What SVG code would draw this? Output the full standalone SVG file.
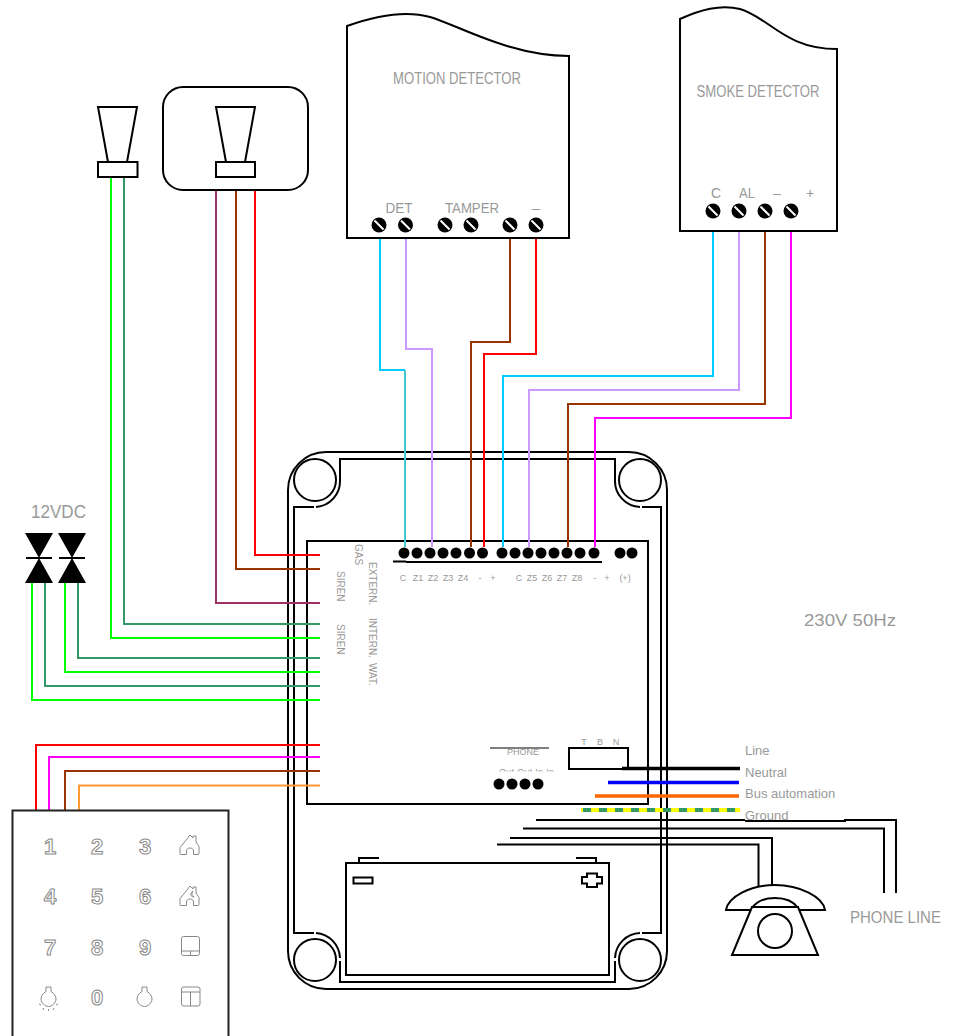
<svg xmlns="http://www.w3.org/2000/svg" width="958" height="1036" viewBox="0 0 958 1036">
<style>
text{font-family:"Liberation Sans",Arial,sans-serif;fill:#999}
.s{fill:none;stroke:#000;stroke-width:2}
.w{fill:#fff;stroke:#000;stroke-width:2}
.t{fill:none;stroke:#000;stroke-width:1.5}
.wire{fill:none;stroke-width:2}
.lb{font-size:9px}
.rt{font-size:10px}
.key{font-size:22px;font-weight:bold;fill:#fff;stroke:#888;stroke-width:1;text-anchor:middle}
.ic{fill:#fff;stroke:#888;stroke-width:1}
.ray{fill:none;stroke:#888;stroke-width:1}
.term{fill:#000}
.sl{stroke:#fff;stroke-width:2;fill:none}
</style>
<defs>
<g id="screw"><circle r="7.5" class="term"/><line x1="-4.5" y1="-4.5" x2="4.5" y2="4.5" class="sl"/></g>
<g id="valve"><path d="M-14 0H14L0 25 14 50H-14L0 25Z" fill="#000"/><line x1="-13" y1="25" x2="13" y2="25" stroke="#000" stroke-width="2"/></g>
<path id="house" d="M-9 9.5C-10 9.5-10 9-10 8V2.500L-3-6 0-10 3-7V-9H6V-3L9 1.500V8C9 9 9 9.500 8 9.500H3.500V6C3.500 4 2 3 0 3-2 3-3.500 4-3.500 6V9.500Z"/>
<clipPath id="clip-out"><rect x="490" y="760" width="70" height="11.500"/></clipPath>
</defs>

<g id="control-case">
<rect x="288" y="452" width="379" height="537" rx="38" class="s"/>
<path class="s" d="M340 480V459H615V480M340 480A26 26 0 0 1 316 507M314 507H294V933H314M316 933A26 26 0 0 1 340 958M340 961V982H615V961M615 958A26 26 0 0 1 640 933M642 933H661V507H642M640 507A26 26 0 0 1 615 480"/>
<circle cx="315" cy="480" r="21" class="s"/>
<circle cx="640" cy="480" r="21" class="s"/>
<circle cx="315" cy="960" r="21" class="s"/>
<circle cx="640" cy="960" r="21" class="s"/>
</g>

<g id="board">
<rect x="307" y="541" width="341" height="263" class="s"/>
<path class="s" stroke-width="1.500" d="M393 561.500H406M406 562H602"/>
<g class="term">
<circle cx="404" cy="553" r="5.500"/><circle cx="417" cy="553" r="5.500"/><circle cx="430" cy="553" r="5.500"/><circle cx="443" cy="553" r="5.500"/><circle cx="456" cy="553" r="5.500"/><circle cx="469.500" cy="553" r="5.500"/><circle cx="482.500" cy="553" r="5.500"/>
<circle cx="502" cy="553" r="5.500"/><circle cx="515" cy="553" r="5.500"/><circle cx="528" cy="553" r="5.500"/><circle cx="541" cy="553" r="5.500"/><circle cx="554" cy="553" r="5.500"/><circle cx="567" cy="553" r="5.500"/><circle cx="580" cy="553" r="5.500"/><circle cx="594" cy="553" r="5.500"/>
<circle cx="620" cy="553" r="5.500"/><circle cx="632" cy="553" r="5.500"/>
<circle cx="499" cy="784" r="5.500"/><circle cx="512" cy="784" r="5.500"/><circle cx="525" cy="784" r="5.500"/><circle cx="538" cy="784" r="5.500"/>
</g>
<g class="lb" text-anchor="middle">
<text x="403" y="581">C</text><text x="418" y="581">Z1</text><text x="433" y="581">Z2</text><text x="448" y="581">Z3</text><text x="463" y="581">Z4</text><text x="480" y="581">-</text><text x="493" y="581">+</text>
<text x="519" y="581">C</text><text x="532" y="581">Z5</text><text x="547" y="581">Z6</text><text x="562" y="581">Z7</text><text x="577" y="581">Z8</text><text x="595" y="581">-</text><text x="607" y="581">+</text><text x="625" y="581">(+)</text>
</g>
<g class="rt">
<text transform="translate(355 544) rotate(90)">GAS</text>
<text transform="translate(369 562) rotate(90)">EXTERN.</text>
<text transform="translate(369 618) rotate(90)">INTERN.</text>
<text transform="translate(369 663) rotate(90)">WAT.</text>
<text transform="translate(337 571) rotate(90)">SIREN</text>
<text transform="translate(337 624) rotate(90)">SIREN</text>
</g>
<line x1="490" y1="748" x2="549" y2="748" stroke="#000" stroke-width="1"/>
<text x="523" y="755" class="lb" text-anchor="middle">PHONE</text>
<text x="499" y="775" class="lb" clip-path="url(#clip-out)" textLength="55">Out Out In In</text>
<text x="584" y="745" class="lb" text-anchor="middle">T</text><text x="600" y="745" class="lb" text-anchor="middle">B</text><text x="616" y="745" class="lb" text-anchor="middle">N</text>
<path class="s" d="M622 769H569V748H628V769"/>
</g>

<g id="connectors">
<path class="wire" stroke="#00ccff" d="M380 232V370H405"/>
<path class="wire" stroke="#40c8d0" d="M405 370V547"/>
<path class="wire" stroke="#cc99ff" d="M406 232V349H432V547"/>
<path class="wire" stroke="#993300" d="M510 232V342H471V547"/>
<path class="wire" stroke="#ff0000" d="M536 232V354H484V547"/>
<path class="wire" stroke="#00ccff" d="M713 216V376H503V547"/>
<path class="wire" stroke="#cc99ff" d="M739 216V390H529V547"/>
<path class="wire" stroke="#993300" d="M765 231V404H568V547"/>
<path class="wire" stroke="#ff00ff" d="M791 231V418H595V547"/>
<path class="wire" stroke="#ff0000" d="M255 190V555H320"/>
<path class="wire" stroke="#993300" d="M236 190V569H320"/>
<path class="wire" stroke="#993366" d="M216 190V603H320"/>
<path class="wire" stroke="#339966" d="M124 177V624H320"/>
<path class="wire" stroke="#00ff00" d="M111 177V638H320"/>
<path class="wire" stroke="#339966" d="M78 583V658H320"/>
<path class="wire" stroke="#00ff00" d="M65 583V672H320"/>
<path class="wire" stroke="#339966" d="M45 583V686H320"/>
<path class="wire" stroke="#00ff00" d="M32 583V700H320"/>
<path class="wire" stroke="#ff0000" d="M320 745H36V810"/>
<path class="wire" stroke="#ff00ff" d="M320 757H49V810"/>
<path class="wire" stroke="#993300" d="M320 771H65V810"/>
<path class="wire" stroke="#ff9933" d="M320 785.500H79V810"/>
<line x1="622" y1="768.500" x2="740" y2="768.500" stroke="#000" stroke-width="3.500"/>
<line x1="608" y1="782.500" x2="739" y2="782.500" stroke="#0000ff" stroke-width="3.500"/>
<line x1="595" y1="796" x2="739" y2="796" stroke="#ff6600" stroke-width="3.500"/>
<line x1="581" y1="810" x2="740" y2="810" stroke="#ffff00" stroke-width="4"/>
<line x1="583" y1="810" x2="740" y2="810" stroke="#339966" stroke-width="4" stroke-dasharray="8 8"/>
<path class="s" d="M536 820H745M745 821H845V820H896V893"/>
<path class="s" d="M523 828.500H884V893"/>
<path class="s" d="M510 838H772V886"/>
<path class="s" d="M497 844.500H758.500V887"/>
</g>

<g id="battery">
<rect x="346" y="863" width="263" height="112" class="s"/>
<path class="s" d="M359 863V858H379M576 858H596V863"/>
<rect x="353.500" y="877.500" width="19" height="6" class="s"/>
<path class="s" d="M587 873.500H597V877H602V883.500H597V887H587V883.500H582V877H587Z"/>
</g>

<g id="motion-detector">
<path class="w" d="M347 238V26C375 16 405 10 430 17 460 26 510 56 569 56V238Z"/>
<text x="457" y="84" font-size="16" text-anchor="middle" textLength="128" lengthAdjust="spacingAndGlyphs">MOTION DETECTOR</text>
<text x="399" y="213" font-size="15" text-anchor="middle" textLength="27" lengthAdjust="spacingAndGlyphs">DET</text>
<text x="472" y="213" font-size="15" text-anchor="middle" textLength="54" lengthAdjust="spacingAndGlyphs">TAMPER</text>
<text x="536" y="213" font-size="15" text-anchor="middle">–</text>
<use href="#screw" x="379" y="225"/><use href="#screw" x="405.500" y="225"/><use href="#screw" x="445" y="225"/><use href="#screw" x="471" y="225"/><use href="#screw" x="510" y="225"/><use href="#screw" x="536" y="225"/>
</g>

<g id="smoke-detector">
<path class="w" d="M680 231V19C700 10 720 4 740 9 770 18 785 49 837 49V231Z"/>
<text x="758" y="97" font-size="16" text-anchor="middle" textLength="123" lengthAdjust="spacingAndGlyphs">SMOKE DETECTOR</text>
<text x="716" y="198" font-size="14" text-anchor="middle">C</text>
<text x="747" y="198" font-size="14" text-anchor="middle" textLength="16" lengthAdjust="spacingAndGlyphs">AL</text>
<text x="777" y="198" font-size="14" text-anchor="middle">–</text>
<text x="810" y="198" font-size="14" text-anchor="middle">+</text>
<use href="#screw" x="713" y="211"/><use href="#screw" x="739" y="211"/><use href="#screw" x="765" y="211"/><use href="#screw" x="791" y="211"/>
</g>

<g id="siren-external">
<rect x="163" y="87" width="145" height="103" rx="20" class="s"/>
<path class="s" d="M226 162L216 107H255L245 162"/>
<rect x="216" y="162" width="39" height="15" class="s"/>
</g>

<g id="siren-internal">
<path class="s" d="M108 162L98 107H137L127 162"/>
<rect x="98" y="162" width="39.500" height="15" class="s"/>
</g>

<g id="valves">
<text x="31" y="518" font-size="18" textLength="55" lengthAdjust="spacingAndGlyphs">12VDC</text>
<use href="#valve" x="39" y="533"/>
<use href="#valve" x="72" y="533"/>
</g>

<g id="power-labels" font-size="13">
<text x="745" y="755" font-size="13">Line</text>
<text x="745" y="777" font-size="13">Neutral</text>
<text x="745" y="798" font-size="13">Bus automation</text>
<text x="745" y="820" font-size="13">Ground</text>
<text x="804" y="626" font-size="17" textLength="92" lengthAdjust="spacingAndGlyphs">230V 50Hz</text>
</g>

<g id="telephone">
<path class="w" d="M726 910C728 897 750 885 775 885 800 885 823 897 825 910Z"/>
<path class="s" d="M752 908C756 902 764 898 775 898 786 898 794 902 798 908"/>
<path class="w" d="M752 907L732 955H818L798 907Z"/>
<circle cx="775" cy="931" r="17" class="s"/>
<text x="850" y="923" font-size="16" textLength="91" lengthAdjust="spacingAndGlyphs">PHONE LINE</text>
</g>

<g id="keypad">
<path fill="#fff" stroke="#222" stroke-width="2" d="M12.500 1040V810.500H228.500V1040"/>
<text x="50" y="854" class="key">1</text><text x="97" y="854" class="key">2</text><text x="145" y="854" class="key">3</text>
<text x="50" y="904" class="key">4</text><text x="97" y="904" class="key">5</text><text x="145" y="904" class="key">6</text>
<text x="50" y="955" class="key">7</text><text x="97" y="955" class="key">8</text><text x="145" y="955" class="key">9</text>
<text x="97" y="1005" class="key">0</text>
<use href="#house" x="190" y="845" class="ic"/>
<use href="#house" x="190" y="896" class="ic"/>
<path class="ray" d="M193 891C190 893 190 897 194 897 192 896 191 894 193 891Z"/>
<rect x="181.500" y="936.500" width="18" height="19" rx="2" class="ic"/>
<path class="ray" d="M181.500 951H199.500M190.500 951V955.500"/>
<rect x="181.500" y="987" width="18.500" height="19" rx="2" class="ic"/>
<path class="ray" d="M181.500 992H200M190.500 992V1006"/>
<path class="ic" d="M46 987H51L51 991.500C54 993 56 996 56 999 56 1003 52 1006.500 48.500 1006.500 45 1006.500 41 1003 41 999 41 996 43 993 46 991.500Z"/>
<path class="ray" d="M39 1004L41 1005M43 1008L44 1010M48.500 1009V1011M54 1008L53 1010M58 1004L56 1005"/>
<path class="ic" d="M142 987H147L147 991.500C150 993 152 996 152 999 152 1003 148 1006.500 144.500 1006.500 141 1006.500 137 1003 137 999 137 996 139 993 142 991.500Z"/>
</g>
</svg>
